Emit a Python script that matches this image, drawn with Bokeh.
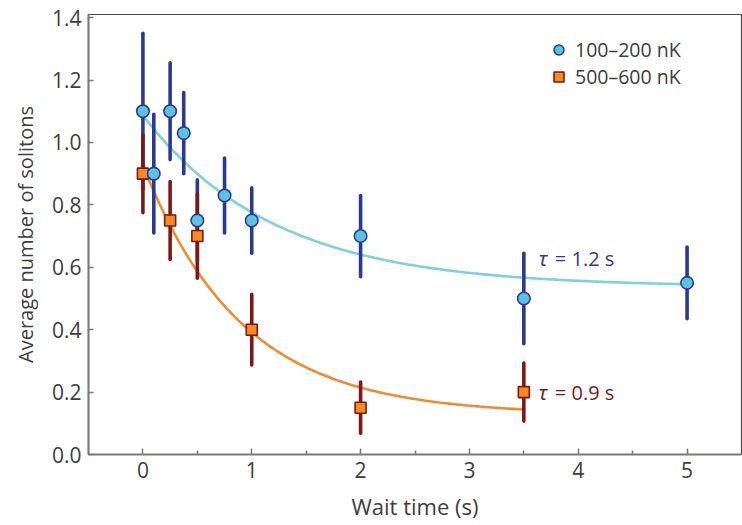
import numpy as np
from bokeh.plotting import figure
from bokeh.models import Range1d, FixedTicker, Legend, LegendItem, Label, ColumnDataSource
from bokeh.embed import file_html
from bokeh.resources import INLINE

# ---- data ----
cold_t = [0.0, 0.1, 0.25, 0.375, 0.5, 0.75, 1.0, 2.0, 3.5, 5.0]
cold_n = [1.10, 0.90, 1.10, 1.03, 0.75, 0.83, 0.75, 0.70, 0.50, 0.55]
cold_err = [0.25, 0.19, 0.155, 0.13, 0.13, 0.12, 0.105, 0.13, 0.145, 0.115]

hot_t = [0.0, 0.25, 0.5, 1.0, 2.0, 3.5]
hot_n = [0.90, 0.75, 0.70, 0.40, 0.15, 0.20]
hot_err = [0.125, 0.125, 0.135, 0.113, 0.082, 0.093]

# exponential fits  n(t) = A exp(-t/tau) + C
cold_tau, cold_A, cold_C, cold_tmax = 1.2, 0.55, 0.537, 5.0
hot_tau, hot_A, hot_C, hot_tmax = 0.9, 0.80, 0.128, 3.5

x_ticks = [0, 1, 2, 3, 4, 5]
x_tick_labels = ["0", "1", "2", "3", "4", "5"]
x_minor_ticks = [0.5, 1.5, 2.5, 3.5, 4.5]
y_ticks = [0.0, 0.2, 0.4, 0.6, 0.8, 1.0, 1.2, 1.4]
y_tick_labels = ["0.0", "0.2", "0.4", "0.6", "0.8", "1.0", "1.2", "1.4"]

legend_labels = ["100\u2013200 nK", "500\u2013600 nK"]

# ---- style ----
FONT = "Open Sans"
TXT = "#3d3d3d"
AX = "#7a7a7a"
BLUE_BAR = "#2b3a8f"
BLUE_FILL = "#5cc2e2"
BLUE_FIT = "#7dd0dc"
RED_BAR = "#7d1719"
RED_FILL = "#f6891f"
RED_FIT = "#f28a30"

p = figure(width=742, height=525, x_range=Range1d(-0.5, 5.5), y_range=Range1d(0, 1.41),
           output_backend="svg", toolbar_location=None, title=None,
           min_border_left=88, min_border_right=1, min_border_top=14, min_border_bottom=71)
p.xgrid.visible = False
p.ygrid.visible = False
p.outline_line_color = "#4a4a4a"
p.outline_line_width = 1.2
p.background_fill_color = "white"
p.border_fill_color = "white"

# fit curves
tc = np.linspace(0, cold_tmax, 200)
p.line(tc, cold_A * np.exp(-tc / cold_tau) + cold_C, line_color=BLUE_FIT, line_width=2.6)
th = np.linspace(0, hot_tmax, 200)
p.line(th, hot_A * np.exp(-th / hot_tau) + hot_C, line_color=RED_FIT, line_width=2.6)

cold_src = ColumnDataSource(dict(t=cold_t, n=cold_n,
                                 lo=[a - b for a, b in zip(cold_n, cold_err)],
                                 hi=[a + b for a, b in zip(cold_n, cold_err)]))
hot_src = ColumnDataSource(dict(t=hot_t, n=hot_n,
                                lo=[a - b for a, b in zip(hot_n, hot_err)],
                                hi=[a + b for a, b in zip(hot_n, hot_err)]))

p.segment(x0="t", y0="lo", x1="t", y1="hi", source=cold_src, line_color=BLUE_BAR,
          line_width=3.6, line_cap="round")
p.segment(x0="t", y0="lo", x1="t", y1="hi", source=hot_src, line_color=RED_BAR,
          line_width=3.6, line_cap="round")
hot_r = p.scatter("t", "n", source=hot_src, marker="square", size=11,
                  fill_color=RED_FILL, line_color=RED_BAR, line_width=1.6)
cold_r = p.scatter("t", "n", source=cold_src, marker="circle", size=12.5,
                   fill_color=BLUE_FILL, line_color=BLUE_BAR, line_width=1.6)

# axes
for ax in (p.xaxis[0], p.yaxis[0]):
    ax.axis_line_color = AX
    ax.axis_line_width = 2
    ax.major_tick_line_color = AX
    ax.major_tick_line_width = 1.5
    ax.minor_tick_line_color = AX
    ax.minor_tick_line_width = 1.5
    ax.major_tick_out = 0
    ax.minor_tick_out = 0
    ax.major_label_text_font = FONT
    ax.major_label_text_font_size = "21px"
    ax.major_label_text_color = TXT
    ax.axis_label_text_font = FONT
    ax.axis_label_text_color = TXT
    ax.axis_label_text_font_style = "normal"
    ax.major_label_standoff = 7

p.xaxis.ticker = FixedTicker(ticks=x_ticks, minor_ticks=x_minor_ticks)
p.xaxis.major_label_overrides = {t: l for t, l in zip(x_ticks, x_tick_labels)}
p.xaxis.major_tick_in = 6
p.xaxis.minor_tick_in = 4
p.xaxis.axis_label = "Wait time (s)"
p.xaxis.axis_label_text_font_size = "22px"
p.xaxis.axis_label_standoff = 10

p.yaxis.ticker = FixedTicker(ticks=y_ticks, minor_ticks=[])
p.yaxis.major_label_overrides = {t: l for t, l in zip(y_ticks, y_tick_labels)}
p.yaxis.major_tick_in = 5
p.yaxis.minor_tick_line_color = None
p.yaxis.axis_label = "Average number of solitons"
p.yaxis.axis_label_text_font_size = "20px"
p.yaxis.axis_label_standoff = 10

# legend
legend = Legend(items=[LegendItem(label=legend_labels[0], renderers=[cold_r]),
                       LegendItem(label=legend_labels[1], renderers=[hot_r])],
                location=(458, 364), padding=0, margin=0, spacing=0,
                glyph_width=25, glyph_height=25, label_height=25, label_standoff=4,
                label_text_font=FONT, label_text_font_size="19.5px", label_text_color=TXT,
                border_line_color=None, background_fill_alpha=0)
p.add_layout(legend)

# tau annotations
for yv, tau, col in ((0.628, cold_tau, BLUE_BAR), (0.198, hot_tau, RED_BAR)):
    p.add_layout(Label(x=3.5, y=yv, x_offset=15, text="\u03c4", text_font="Noto Sans",
                       text_font_style="italic", text_font_size="20px", text_color=col,
                       text_baseline="middle"))
    p.add_layout(Label(x=3.5, y=yv, x_offset=31, text="= %.1f s" % tau, text_font=FONT,
                       text_font_size="20px", text_color=col, text_baseline="middle"))

open("out.html", "w").write(file_html(p, INLINE))
